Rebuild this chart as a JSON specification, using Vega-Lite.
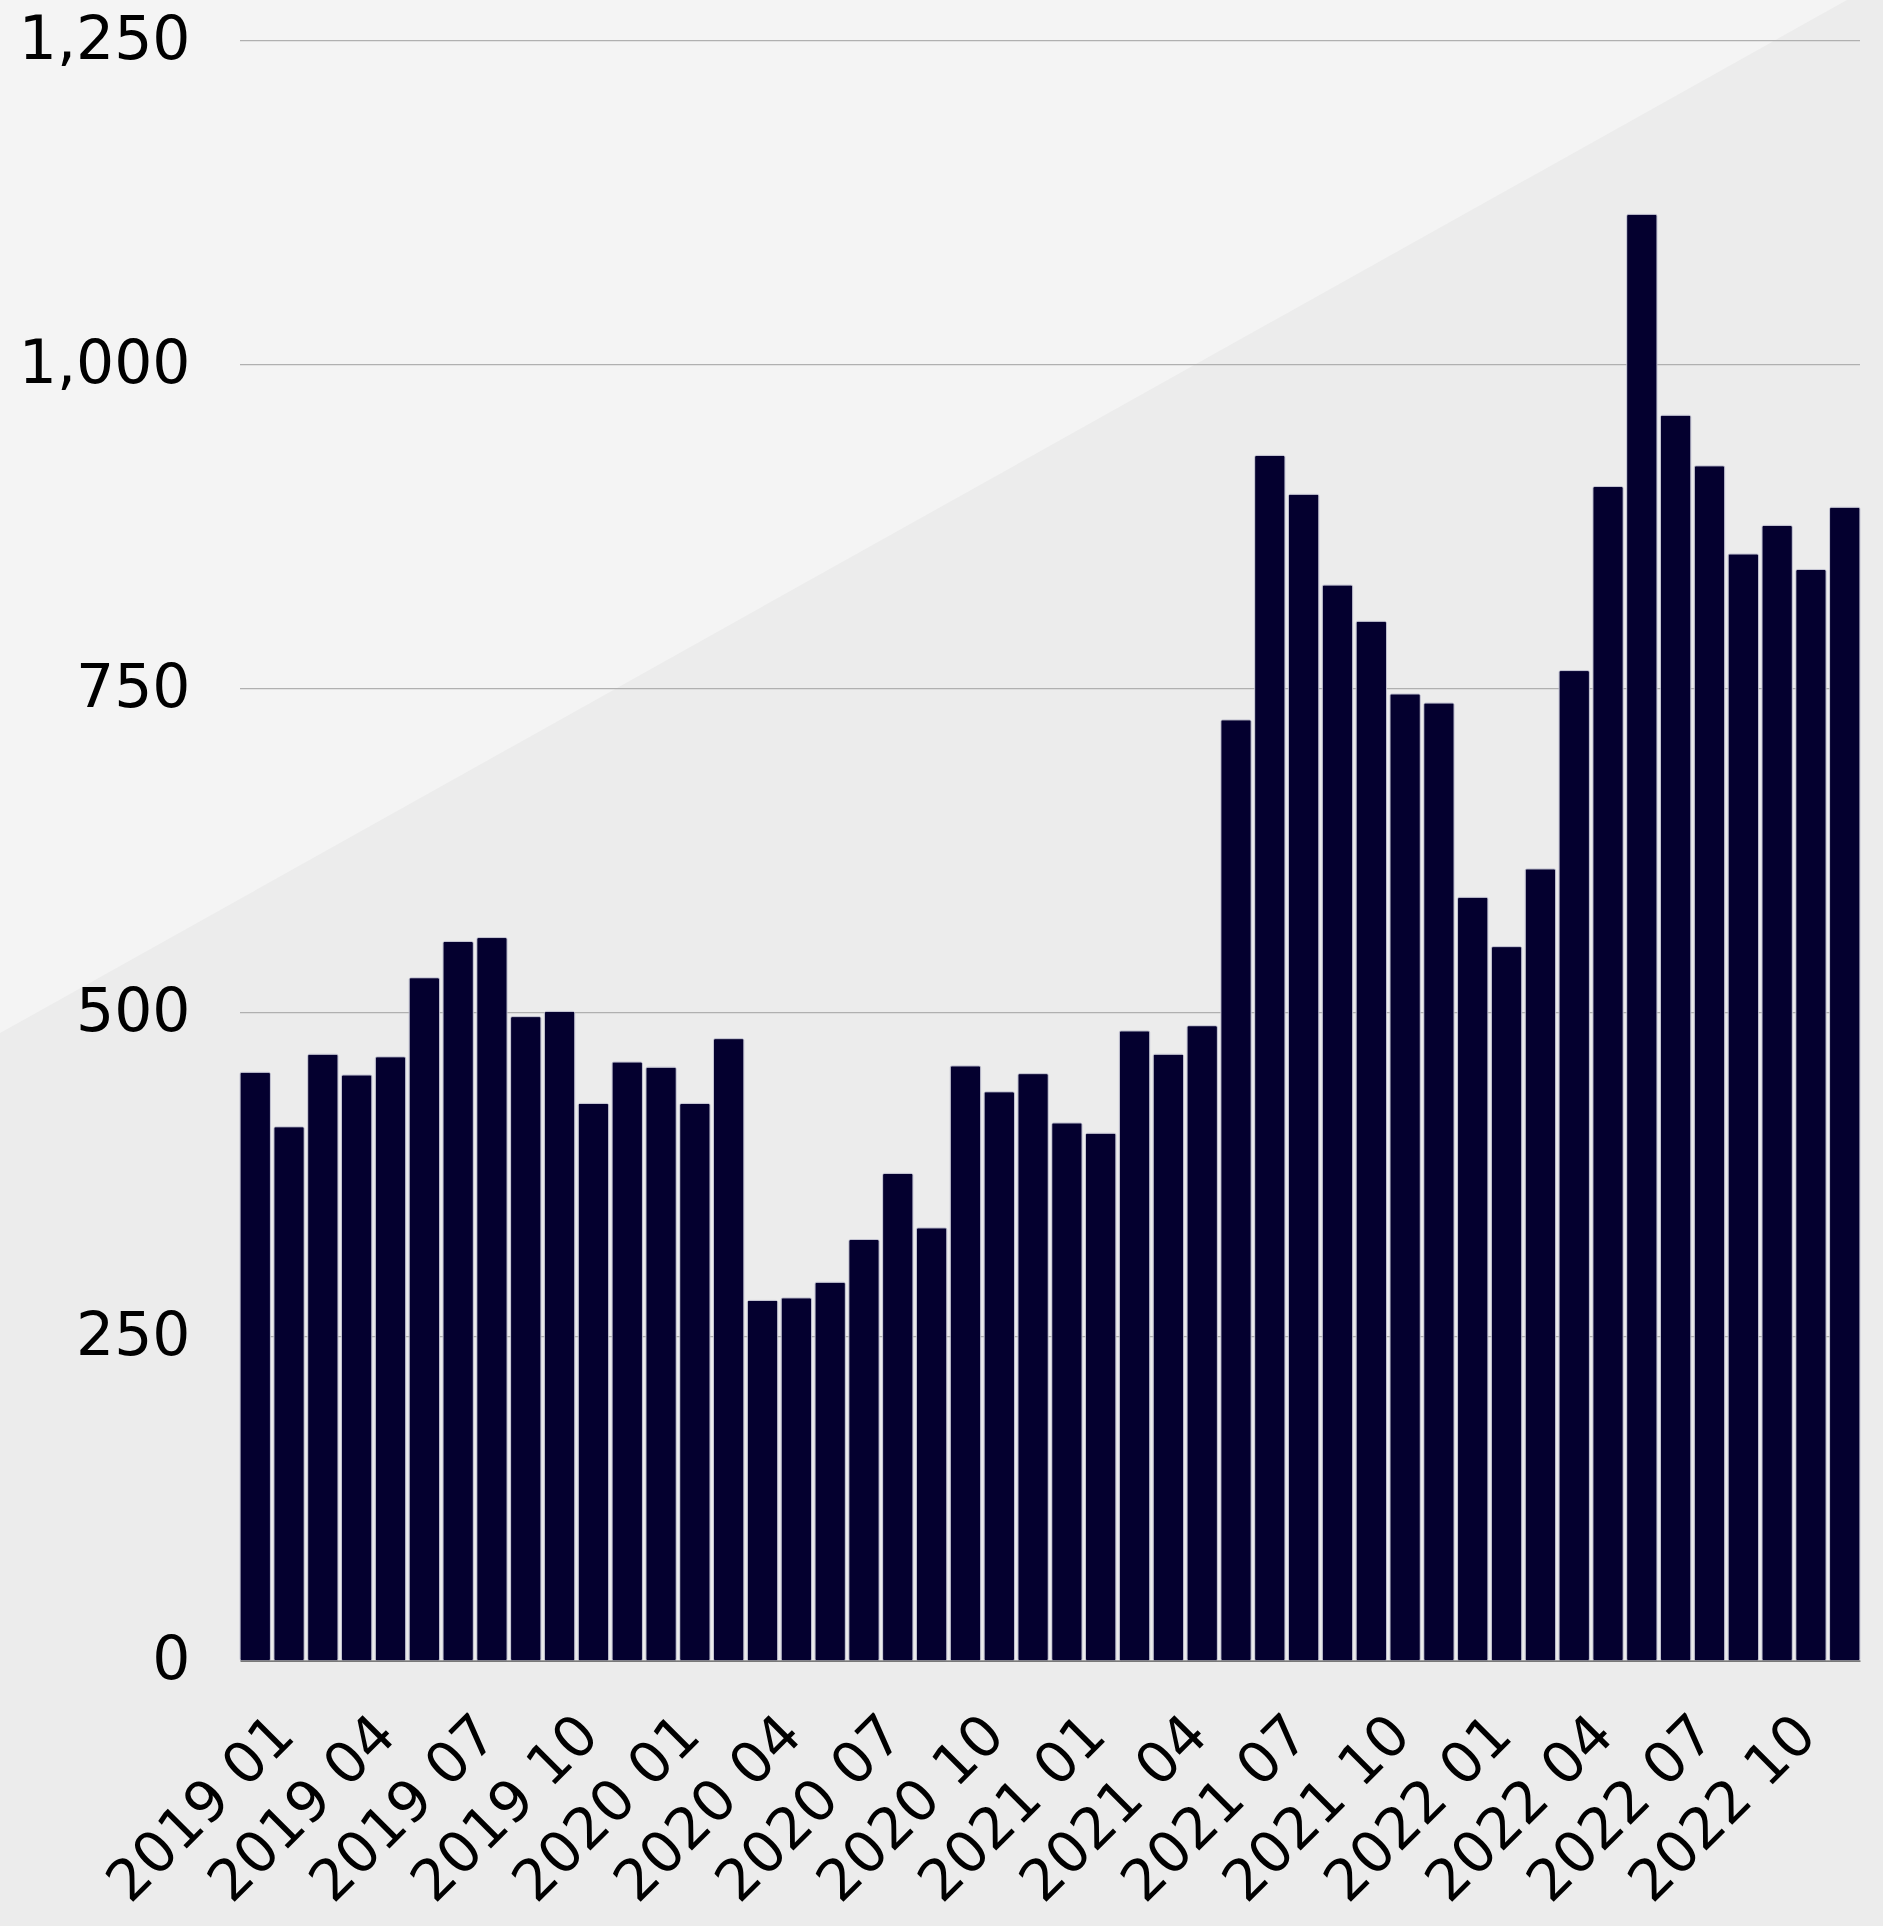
{
  "$schema": "https://vega.github.io/schema/vega-lite/v6.json",
  "autosize": {"type": "none"},
  "padding": {"left": 240, "top": 40.7, "right": 23, "bottom": 265.3},
  "width": 1620,
  "height": 1620,
  "background": "#ececec",
  "config": {"view": {"stroke": null}, "font": "DejaVu Sans"},
  "layer": [
    {
      "data": {"values": [
        {"t": -0.2, "v": 448, "top": 3000},
        {"t": 1.05, "v": 1322, "top": 3000}
      ]},
      "mark": {"type": "area", "clip": false, "fill": "#f4f4f4", "orient": "vertical"},
      "encoding": {
        "x": {"field": "t", "type": "quantitative", "scale": {"domain": [0, 1], "nice": false, "zero": false}, "axis": null},
        "y": {
          "field": "v", "type": "quantitative", "scale": {"domain": [0, 1250], "nice": false},
          "axis": {
            "values": [0, 250, 500, 750, 1000, 1250], "format": ",d", "title": null,
            "labelFontSize": 60, "labelColor": "#000000", "labelPadding": 50, "labelLimit": 0,
            "ticks": false, "domain": false, "grid": false, "zindex": 1
          }
        },
        "y2": {"field": "top"}
      }
    },
    {
      "data": {"values": [{"g": 250}, {"g": 500}, {"g": 750}, {"g": 1000}, {"g": 1250}]},
      "mark": {"type": "rule", "color": "#b0b0b0", "strokeWidth": 1.3},
      "encoding": {
        "y": {
          "field": "g", "type": "quantitative", "scale": {"domain": [0, 1250], "nice": false},
          "axis": {
            "values": [0, 250, 500, 750, 1000, 1250], "format": ",d", "title": null,
            "labelFontSize": 60, "labelColor": "#000000", "labelPadding": 50, "labelLimit": 0,
            "ticks": false, "domain": false, "grid": false, "zindex": 1
          }
        }
      }
    },
    {
      "data": {"values": [
        {"month": "2019 01", "value": 454}, {"month": "2019 02", "value": 412}, {"month": "2019 03", "value": 468},
        {"month": "2019 04", "value": 452}, {"month": "2019 05", "value": 466}, {"month": "2019 06", "value": 527},
        {"month": "2019 07", "value": 555}, {"month": "2019 08", "value": 558}, {"month": "2019 09", "value": 497},
        {"month": "2019 10", "value": 501}, {"month": "2019 11", "value": 430}, {"month": "2019 12", "value": 462},
        {"month": "2020 01", "value": 458}, {"month": "2020 02", "value": 430}, {"month": "2020 03", "value": 480},
        {"month": "2020 04", "value": 278}, {"month": "2020 05", "value": 280}, {"month": "2020 06", "value": 292},
        {"month": "2020 07", "value": 325}, {"month": "2020 08", "value": 376}, {"month": "2020 09", "value": 334},
        {"month": "2020 10", "value": 459}, {"month": "2020 11", "value": 439}, {"month": "2020 12", "value": 453},
        {"month": "2021 01", "value": 415}, {"month": "2021 02", "value": 407}, {"month": "2021 03", "value": 486},
        {"month": "2021 04", "value": 468}, {"month": "2021 05", "value": 490}, {"month": "2021 06", "value": 726},
        {"month": "2021 07", "value": 930}, {"month": "2021 08", "value": 900}, {"month": "2021 09", "value": 830},
        {"month": "2021 10", "value": 802}, {"month": "2021 11", "value": 746}, {"month": "2021 12", "value": 739},
        {"month": "2022 01", "value": 589}, {"month": "2022 02", "value": 551}, {"month": "2022 03", "value": 611},
        {"month": "2022 04", "value": 764}, {"month": "2022 05", "value": 906}, {"month": "2022 06", "value": 1116},
        {"month": "2022 07", "value": 961}, {"month": "2022 08", "value": 922}, {"month": "2022 09", "value": 854},
        {"month": "2022 10", "value": 876}, {"month": "2022 11", "value": 842}, {"month": "2022 12", "value": 890}
      ]},
      "mark": {"type": "bar", "fill": "#04002f", "stroke": "#c0c0d0", "strokeWidth": 0.8, "cornerRadius": 2},
      "encoding": {
        "x": {
          "field": "month", "type": "ordinal", "sort": null,
          "scale": {"paddingInner": 0.1, "paddingOuter": 0},
          "axis": {
            "values": ["2019 01", "2019 04", "2019 07", "2019 10", "2020 01", "2020 04", "2020 07", "2020 10", "2021 01", "2021 04", "2021 07", "2021 10", "2022 01", "2022 04", "2022 07", "2022 10"],
            "title": null, "labelAngle": -45, "labelAlign": "right", "labelBaseline": "top",
            "labelFontSize": 57, "labelColor": "#000000", "labelPadding": 45, "labelOffset": 10, "labelOverlap": false, "labelLimit": 0,
            "ticks": false, "domain": true, "domainColor": "#555555", "domainWidth": 1.2, "grid": false, "zindex": 1
          }
        },
        "y": {
          "field": "value", "type": "quantitative",
          "scale": {"domain": [0, 1250], "nice": false},
          "axis": {
            "values": [0, 250, 500, 750, 1000, 1250], "format": ",d", "title": null,
            "labelFontSize": 60, "labelColor": "#000000", "labelPadding": 50, "labelLimit": 0,
            "ticks": false, "domain": false, "grid": false, "zindex": 1
          }
        }
      }
    }
  ],
  "resolve": {"scale": {"x": "independent"}}
}
